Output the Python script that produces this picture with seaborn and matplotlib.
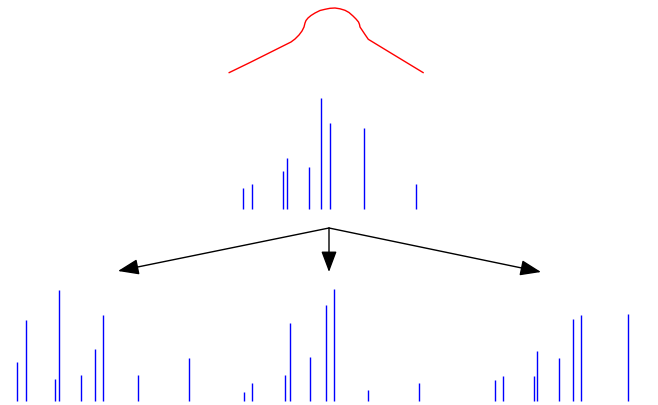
import matplotlib
matplotlib.use("Agg")
import matplotlib.pyplot as plt
import seaborn as sns
import pandas as pd

# envelope curve (pixel-like units, y grows downward)
curve_x = [229, 250, 270, 291, 295, 299, 302, 304, 305, 306, 308, 311, 315,
           320, 325, 330, 335, 340, 345, 349, 353, 356, 358.5, 359.5, 360,
           362, 365, 368.3, 390, 423.3]
curve_y = [72.7, 62.5, 52.5, 42, 39, 35, 31, 27, 23, 20.5, 18, 15.5, 13,
           10.5, 9.3, 8.3, 8, 8.8, 10.3, 12.5, 16, 19, 22, 24.5, 27,
           30, 34.5, 39.3, 52.5, 72.7]

# top spectrum: positions and line heights
top_pos = [243.3, 252.3, 282.7, 287, 308.7, 321.3, 330, 364.3, 416]
top_h = [21, 25, 38, 51, 42, 111, 86, 81, 25]

# bottom spectra
left_pos = [16.7, 26, 55.3, 58.7, 81, 95, 102.7, 138, 189]
left_h = [38.5, 81, 21.5, 111, 26, 52, 85.5, 26, 42.5]

mid_pos = [243.7, 252.3, 285.3, 289.7, 310.3, 326, 333.7, 367.7, 419]
mid_h = [9, 17.5, 26, 78, 43.5, 96, 112, 11, 17.5]

right_pos = [494.7, 503, 533.7, 537, 559, 573, 580.7, 628]
right_h = [21, 25, 25, 50, 42.5, 81.5, 85.5, 86.5]

# arrows from one source point to three targets
arrow_src = (329, 228)
arrow_dst = [(118, 271), (329, 272), (541, 272)]

top_base = 208.5
bottom_base = 400.5

sns.set_theme(style="white")
fig = plt.figure(figsize=(6.58, 4.05), dpi=100)
ax = fig.add_axes([0, 0, 1, 1])

df = pd.DataFrame({"x": curve_x, "y": curve_y})
sns.lineplot(data=df, x="x", y="y", sort=False, color="red", linewidth=1.0, ax=ax)

ax.vlines(top_pos, [top_base - h for h in top_h], top_base, color="blue", linewidth=1.0)
for pos, h in [(left_pos, left_h), (mid_pos, mid_h), (right_pos, right_h)]:
    ax.vlines(pos, [bottom_base - v for v in h], bottom_base, color="blue", linewidth=1.0)

for dst in arrow_dst:
    ax.annotate("", xy=dst, xytext=arrow_src,
                arrowprops=dict(arrowstyle="-|>,head_length=0.8,head_width=0.3",
                                color="black", lw=1.0,
                                mutation_scale=16, shrinkA=0, shrinkB=0))

ax.set_xlim(0, 658)
ax.set_ylim(405, 0)
ax.axis("off")

fig.savefig("out.png", dpi=100)
